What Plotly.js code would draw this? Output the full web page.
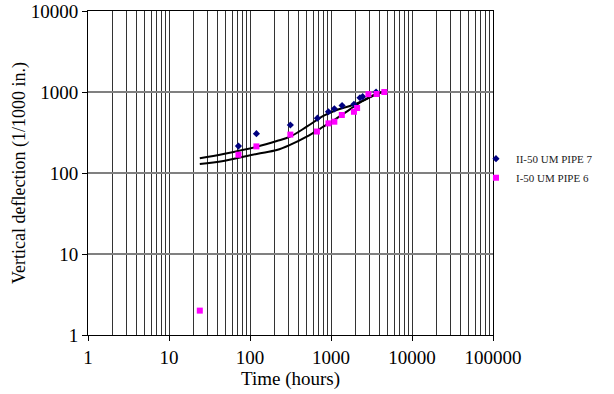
<!DOCTYPE html>
<html>
<head>
<meta charset="utf-8">
<script src="https://cdn.plot.ly/plotly-3.0.1.min.js"></script>
<style>
  html, body { margin: 0; padding: 0; background: #fff; }
  #chart { width: 614px; height: 394px; }
</style>
</head>
<body>
<div id="chart"></div>
<script>
// Measured deflection, pipe 7 (II-50 UM)
const pipe7Hours = [72, 120, 315, 680, 930, 1100, 1370, 1920, 2280, 2460, 3600];
const pipe7Defl  = [215, 306, 391, 475, 570, 620, 680, 705, 850, 875, 1000];

// Measured deflection, pipe 6 (I-50 UM)
const pipe6Hours = [24, 72, 120, 315, 670, 930, 1100, 1360, 1920, 2100, 2900, 3650, 4550];
const pipe6Defl  = [2, 168, 213, 298, 325, 410, 430, 520, 570, 635, 940, 945, 1000];

// Fitted trend curves
const fitUpperHours = [24, 47, 121, 214, 312, 501, 804, 1175, 1714, 2500, 3660, 4500];
const fitUpperDefl  = [152, 172, 211, 248, 281, 373, 506, 600, 672, 781, 945, 1005];
const fitLowerHours = [24, 47, 121, 214, 312, 501, 804, 1175, 1714, 2500, 3660, 4500];
const fitLowerDefl  = [129, 141, 172, 192, 222, 281, 373, 473, 611, 781, 945, 1005];

const xMajor = [1, 10, 100, 1000, 10000, 100000];
const xMajorText = ['1', '10', '100', '1000', '10000', '100000'];
const yMajor = [1, 10, 100, 1000, 10000];
const yMajorText = ['1', '10', '100', '1000', '10000'];

// minor grid positions 2..9 in each decade
const xMinor = [];
for (let d = 1; d < 100000; d *= 10) {
  for (let k = 2; k <= 9; k++) xMinor.push(k * d);
}

const serif = '"Liberation Serif", "Times New Roman", serif';

const traces = [
  {
    x: fitUpperHours, y: fitUpperDefl, type: 'scatter', mode: 'lines',
    line: {color: '#000', width: 2, shape: 'spline', smoothing: 1},
    showlegend: false, hoverinfo: 'skip'
  },
  {
    x: fitLowerHours, y: fitLowerDefl, type: 'scatter', mode: 'lines',
    line: {color: '#000', width: 2, shape: 'spline', smoothing: 1},
    showlegend: false, hoverinfo: 'skip'
  },
  {
    x: pipe7Hours, y: pipe7Defl, type: 'scatter', mode: 'markers',
    name: 'II-50 UM PIPE 7',
    marker: {symbol: 'diamond', size: 5.5, color: '#000080'}
  },
  {
    x: pipe6Hours, y: pipe6Defl, type: 'scatter', mode: 'markers',
    name: 'I-50 UM PIPE 6',
    marker: {symbol: 'square', size: 6, color: '#FF00FF'}
  }
];

const layout = {
  width: 614, height: 394,
  margin: {l: 88, r: 121, t: 11, b: 59},
  paper_bgcolor: '#fff', plot_bgcolor: '#fff',
  font: {family: serif, color: '#000', size: 18},
  showlegend: true,
  legend: {
    x: 0.958, xanchor: 'left', y: 0.515, yanchor: 'middle',
    bgcolor: 'rgba(0,0,0,0)', font: {family: serif, size: 11, color: '#222'},
    itemwidth: 30, tracegroupgap: 0
  },
  xaxis: {
    type: 'log', range: [0, 5],
    tickmode: 'array', tickvals: xMajor, ticktext: xMajorText,
    ticks: 'outside', ticklen: 5, tickcolor: '#000',
    tickfont: {family: serif, size: 19},
    showgrid: true, gridcolor: '#333', gridwidth: 1,
    minor: {tickmode: 'array', tickvals: xMinor, showgrid: true, gridcolor: '#333', gridwidth: 1, ticks: ''},
    showline: true, linecolor: '#000', linewidth: 1, mirror: true,
    zeroline: false,
    title: {text: 'Time (hours)', font: {family: serif, size: 19}, standoff: 4}
  },
  yaxis: {
    type: 'log', range: [0, 4],
    tickmode: 'array', tickvals: yMajor, ticktext: yMajorText,
    ticks: 'outside', ticklen: 5, tickcolor: '#000',
    tickfont: {family: serif, size: 19},
    showgrid: true, gridcolor: '#808080', gridwidth: 1.5,
    showline: true, linecolor: '#000', linewidth: 1, mirror: true,
    zeroline: false,
    title: {text: 'Vertical deflection (1/1000 in.)', font: {family: serif, size: 18}, standoff: 0}
  }
};

Plotly.newPlot('chart', traces, layout, {staticPlot: true, displayModeBar: false});
</script>
</body>
</html>
